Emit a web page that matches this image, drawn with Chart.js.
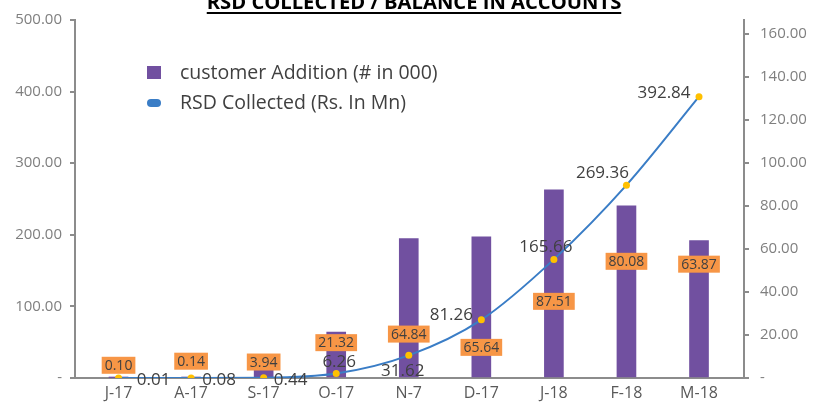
<!DOCTYPE html>
<html>
<head>
<meta charset="utf-8">
<script src="https://cdn.jsdelivr.net/npm/chart.js@4.4.1/dist/chart.umd.min.js"></script>
<style>
  html, body { margin: 0; padding: 0; background: #fff; }
  #wrap { width: 832px; height: 409px; position: relative; }
</style>
</head>
<body>
<div id="wrap"><canvas id="rsdChart"></canvas></div>
<script>
// chart values
const months = ['J-17', 'A-17', 'S-17', 'O-17', 'N-7', 'D-17', 'J-18', 'F-18', 'M-18'];
const customerAddition = [0.10, 0.14, 3.94, 21.32, 64.84, 65.64, 87.51, 80.08, 63.87];
const rsdCollected = [0.01, 0.08, 0.44, 6.26, 31.62, 81.26, 165.66, 269.36, 392.84];
const leftTicks = [0, 100, 200, 300, 400, 500];
const rightTicks = [0, 20, 40, 60, 80, 100, 120, 140, 160];

const titleText = 'RSD COLLECTED / BALANCE IN ACCOUNTS';
const fontFamily = '"Open Sans", "Liberation Sans", sans-serif';

// where each data label sits, relative to its mark (px)
const barLabelShift = [[0, -13], [0, -17], [0, -8], [0, 10], [0, 95], [0, 110], [0, 111], [0, 55], [0, 23]];
const lineLabelShift = [[35, 2], [28, 2], [27, 2], [3, -11], [-6, 16], [-30, -5], [-8, -12], [-24, -12], [-35, -4]];

const purple = '#7150A0';
const blue = '#3A7DC6';
const gold = '#FFC000';
const orange = '#F79646';
const axisGrey = '#8C8C8C';

function fmt(v) {
  return v.toFixed(2);
}

const titlePlugin = {
  id: 'cutTitle',
  afterDraw(chart) {
    const ctx = chart.ctx;
    ctx.save();
    ctx.font = 'bold 17px ' + fontFamily;
    let w = ctx.measureText(titleText).width;
    const size = 17 * 415 / w;
    ctx.font = 'bold ' + size.toFixed(2) + 'px ' + fontFamily;
    w = ctx.measureText(titleText).width;
    const cx = 414;
    ctx.fillStyle = '#000';
    ctx.textAlign = 'center';
    ctx.textBaseline = 'alphabetic';
    ctx.fillText(titleText, cx, 9);
    ctx.fillRect(cx - w / 2, 12, w, 2);
    ctx.restore();
  }
};

const legendPlugin = {
  id: 'innerLegend',
  afterDraw(chart) {
    const ctx = chart.ctx;
    ctx.save();
    ctx.font = '19.5px ' + fontFamily;
    ctx.textBaseline = 'middle';
    ctx.textAlign = 'left';
    // bar entry
    ctx.fillStyle = purple;
    ctx.fillRect(147, 66, 14, 13);
    ctx.fillStyle = '#404040';
    ctx.fillText(chart.data.datasets[1].label, 180, 73);
    // line entry
    ctx.fillStyle = blue;
    ctx.beginPath();
    ctx.roundRect(147, 99, 14, 8, 4);
    ctx.fill();
    ctx.fillStyle = '#404040';
    ctx.fillText(chart.data.datasets[0].label, 180, 103);
    ctx.restore();
  }
};

const labelPlugin = {
  id: 'valueLabels',
  afterDatasetsDraw(chart) {
    const ctx = chart.ctx;
    ctx.save();
    ctx.textAlign = 'center';
    ctx.textBaseline = 'middle';

    // orange boxes for the bars
    const barMeta = chart.getDatasetMeta(1);
    ctx.font = '14px ' + fontFamily;
    barMeta.data.forEach(function (el, i) {
      const txt = fmt(customerAddition[i]);
      const x = el.x + barLabelShift[i][0];
      const y = el.y + barLabelShift[i][1];
      const w = ctx.measureText(txt).width + 6;
      ctx.fillStyle = orange;
      ctx.fillRect(x - w / 2, y - 8, w, 17);
      ctx.fillStyle = '#404040';
      ctx.fillText(txt, x, y + 1);
    });

    // plain text for the line
    const lineMeta = chart.getDatasetMeta(0);
    ctx.font = '17px ' + fontFamily;
    ctx.fillStyle = '#404040';
    lineMeta.data.forEach(function (el, i) {
      const txt = fmt(rsdCollected[i]);
      ctx.fillText(txt, el.x + lineLabelShift[i][0], el.y + lineLabelShift[i][1]);
    });
    ctx.restore();
  }
};

const ctx = document.getElementById('rsdChart').getContext('2d');
new Chart(ctx, {
  data: {
    datasets: [
      {
        type: 'line',
        label: 'RSD Collected (Rs. In Mn)',
        data: rsdCollected.map(function (v, i) { return { x: i, y: v }; }),
        yAxisID: 'y',
        borderColor: blue,
        borderWidth: 2,
        cubicInterpolationMode: 'monotone',
        pointRadius: 3.5,
        pointBackgroundColor: gold,
        pointBorderColor: gold,
        pointBorderWidth: 0,
        order: 0
      },
      {
        type: 'bar',
        label: 'customer Addition (# in 000)',
        data: customerAddition.map(function (v, i) { return { x: i, y: v }; }),
        yAxisID: 'y1',
        backgroundColor: purple,
        barThickness: 19,
        order: 1
      }
    ]
  },
  options: {
    responsive: true,
    maintainAspectRatio: false,
    animation: false,
    layout: { padding: { top: 20, left: 0, right: 0, bottom: 0 } },
    plugins: {
      legend: { display: false },
      tooltip: { enabled: false },
      title: { display: false }
    },
    scales: {
      x: {
        type: 'linear',
        min: -0.6,
        max: 8.62,
        offset: false,
        afterBuildTicks: function (scale) {
          scale.ticks = months.map(function (m, i) { return { value: i }; });
        },
        afterFit: function (scale) { scale.height = 31; },
        grid: { display: false, drawTicks: false, offset: false },
        border: { display: true, color: axisGrey, width: 2 },
        ticks: {
          padding: 6,
          color: '#595959',
          font: { family: fontFamily, size: 16 },
          maxRotation: 0,
          callback: function (v) { return months[v] !== undefined ? months[v] : ''; }
        }
      },
      y: {
        position: 'left',
        min: 0,
        max: 500,
        afterBuildTicks: function (scale) {
          scale.ticks = leftTicks.map(function (v) { return { value: v }; });
        },
        afterFit: function (scale) { scale.width = 75; },
        grid: { drawOnChartArea: false, drawTicks: true, tickLength: 5, color: axisGrey, lineWidth: 2 },
        border: { display: true, color: axisGrey, width: 2 },
        ticks: {
          padding: 8,
          color: '#7F7F7F',
          font: { family: fontFamily, size: 15 },
          callback: function (v) { return v === 0 ? '-' : fmt(v); }
        }
      },
      y1: {
        position: 'right',
        min: 0,
        max: 166.5,
        afterBuildTicks: function (scale) {
          scale.ticks = rightTicks.map(function (v) { return { value: v }; });
        },
        afterFit: function (scale) { scale.width = 88; },
        grid: { drawOnChartArea: false, drawTicks: true, tickLength: 5, color: axisGrey, lineWidth: 2 },
        border: { display: true, color: axisGrey, width: 2 },
        ticks: {
          padding: 11,
          color: '#7F7F7F',
          font: { family: fontFamily, size: 15 },
          callback: function (v) { return v === 0 ? '-' : fmt(v); }
        }
      }
    }
  },
  plugins: [labelPlugin, legendPlugin, titlePlugin]
});
</script>
</body>
</html>
